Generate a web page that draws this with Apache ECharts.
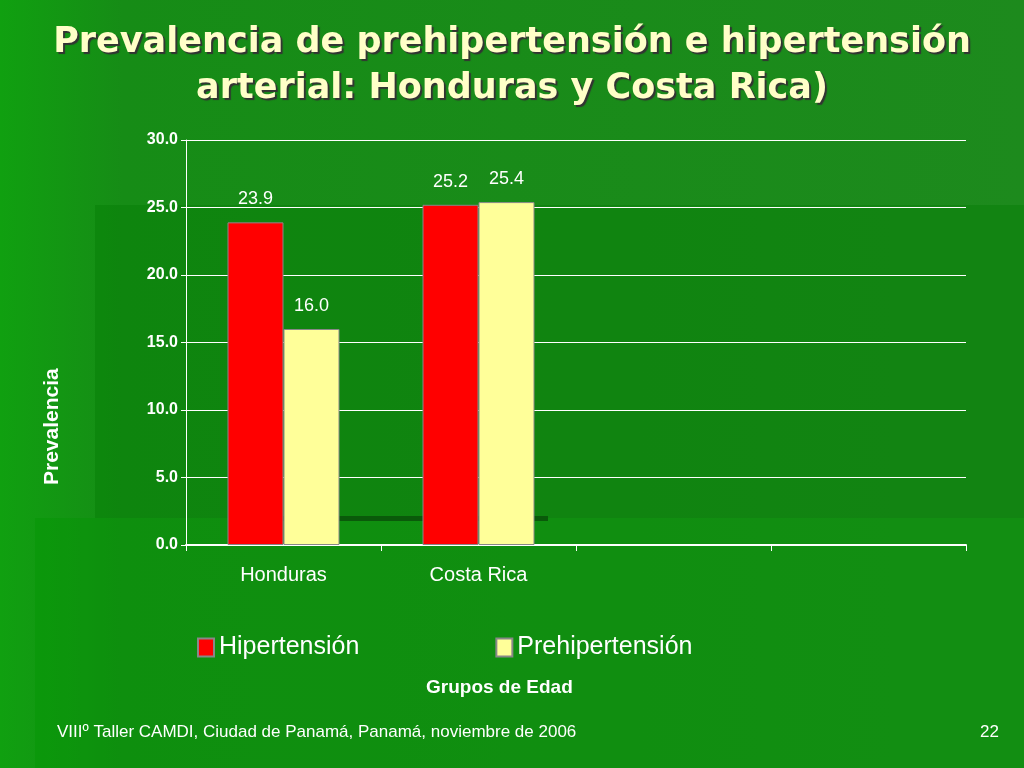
<!DOCTYPE html>
<html><head><meta charset="utf-8">
<script src="https://cdn.jsdelivr.net/npm/echarts@6/dist/echarts.min.js"></script>
<style>html,body{margin:0;padding:0;}#c{width:1024px;height:768px;}</style>
</head><body><div id="c"></div>
<script>
const categories = ['Honduras', 'Costa Rica', '', ''];
const hipertension = [23.9, 25.2, null, null];
const prehipertension = [16.0, 25.4, null, null];
const seriesNames = ['Hipertensión', 'Prehipertensión'];

const chart = echarts.init(document.getElementById('c'));
const lbl = {show: true, position: 'top', distance: 14, color: '#fff', fontSize: 18, fontFamily: 'Liberation Sans', formatter: p => p.value.toFixed(1)};
chart.setOption({
  backgroundColor: {type: 'linear', x: 0, y: 0, x2: 1, y2: 0, colorStops: [{offset: 0, color: '#10a010'}, {offset: 0.12, color: '#168c16'}, {offset: 1, color: '#1d8a1d'}]},
  animation: false,
  graphic: [
    {type: 'rect', shape: {x: 95, y: 205, width: 929, height: 313}, style: {fill: 'rgba(0,120,0,0.35)'}, z: -1},
    {type: 'rect', shape: {x: 35, y: 518, width: 989, height: 250}, style: {fill: 'rgba(0,150,0,0.35)'}, z: -1},
    {type: 'rect', shape: {x: 280, y: 516, width: 268, height: 5}, style: {fill: '#0a5a0a'}, z: -1},
    {type: 'text', left: 'center', top: 20, style: {text: 'Prevalencia de prehipertensión e hipertensión\narterial: Honduras y Costa Rica)', fill: '#ffffc8', font: 'bold 35px "DejaVu Sans"', textAlign: 'center', lineHeight: 46, textShadowColor: '#333', textShadowOffsetX: 2, textShadowOffsetY: 2, textShadowBlur: 1}},
    {type: 'text', x: 42, y: 485, rotation: Math.PI / 2, style: {text: 'Prevalencia', fill: '#fff', font: 'bold 21px "Liberation Sans"'}},
    {type: 'text', left: 426, top: 678, style: {text: 'Grupos de Edad', fill: '#fff', font: 'bold 19px "Liberation Sans"'}},
    {type: 'text', left: 57, top: 724, style: {text: 'VIIIº Taller CAMDI, Ciudad de Panamá, Panamá, noviembre de 2006', fill: '#fff', font: '17px "Liberation Sans"'}},
    {type: 'text', left: 980, top: 724, style: {text: '22', fill: '#fff', font: '17px "Liberation Sans"'}}
  ],
  grid: {left: 186, right: 58, top: 140, bottom: 223},
  legend: {top: 630, left: 192, itemGap: 136, itemWidth: 16, itemHeight: 18, icon: 'rect', textStyle: {color: '#fff', fontSize: 25, fontFamily: 'Liberation Sans'}, data: seriesNames},
  xAxis: {type: 'category', data: categories, axisLine: {lineStyle: {color: '#fff', width: 2}}, axisTick: {show: true, length: 6, lineStyle: {color: '#fff'}}, axisLabel: {color: '#fff', fontSize: 20, fontFamily: 'Liberation Sans', margin: 20}},
  yAxis: {type: 'value', min: 0, max: 30, interval: 5, axisLine: {show: true, lineStyle: {color: '#fff'}}, axisTick: {show: true, lineStyle: {color: '#fff'}}, axisLabel: {color: '#fff', fontSize: 16, fontWeight: 'bold', fontFamily: 'Liberation Sans', formatter: v => v.toFixed(1)}, splitLine: {lineStyle: {color: '#fff', width: 1}}},
  series: [
    {name: seriesNames[0], type: 'bar', data: hipertension, barWidth: 56, barGap: '0%', itemStyle: {color: '#ff0000', borderColor: '#888', borderWidth: 1}, label: lbl},
    {name: seriesNames[1], type: 'bar', data: prehipertension, barWidth: 56, itemStyle: {color: '#ffff99', borderColor: '#888', borderWidth: 1}, label: lbl}
  ]
});
</script></body></html>
